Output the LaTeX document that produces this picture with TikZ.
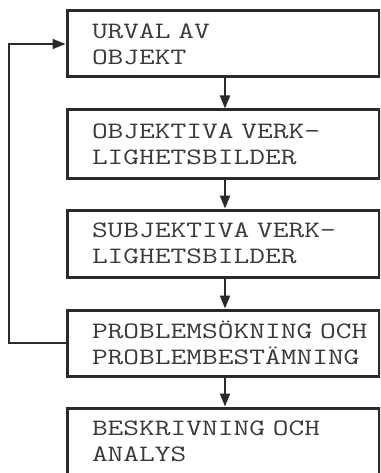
\documentclass[tikz,border=0pt]{standalone}
\usepackage{fontspec}
\newfontfamily\typew{Latin Modern Mono}[FakeStretch=1.30]
\usetikzlibrary{arrows.meta}
\definecolor{ink}{HTML}{2A2A2A}
\definecolor{txt}{HTML}{3A3A3A}
\tikzset{
  box/.style={draw=ink, line width=3pt, rectangle, text width=262pt, inner xsep=25pt,
    inner ysep=0pt, align=left, text=txt, font=\typew\fontsize{23.5}{26}\selectfont},
  flow/.style={draw=ink, line width=2pt, -{Triangle[length=13pt,width=10pt]}},
  back/.style={draw=ink, line width=1.5pt, -{Triangle[length=13pt,width=10pt]}}
}
\begin{document}
\begin{tikzpicture}[x=1pt,y=-1pt]
\useasboundingbox (0,0) rectangle (380,473);
\fill[white] (0,0) rectangle (380,473);
\clip (0,0) rectangle (380,473);
\node[box, minimum height=66pt] (b1) at (223,44) {\mbox{URVAL AV}\\\mbox{OBJEKT}};
\node[box, minimum height=68pt] (b2) at (223,144) {\mbox{OBJEKTIVA VERK-}\\\mbox{LIGHETSBILDER}};
\node[box, minimum height=67pt] (b3) at (223,243.5) {\mbox{SUBJEKTIVA VERK-}\\\mbox{LIGHETSBILDER}};
\node[box, minimum height=66pt] (b4) at (223,343) {\mbox{PROBLEMSÖKNING OCH}\\\mbox{PROBLEMBESTÄMNING}};
\node[box, minimum height=67pt] (b5) at (223,441.5) {\mbox{BESKRIVNING OCH}\\\mbox{ANALYS}};
\coordinate (fb) at (9,343);
\draw[flow] ([xshift=2pt]b1.south) -- ([xshift=2pt]b2.north);
\draw[flow] ([xshift=2pt]b2.south) -- ([xshift=2pt]b3.north);
\draw[flow] ([xshift=2pt]b3.south) -- ([xshift=2pt]b4.north);
\draw[flow] ([xshift=2pt]b4.south) -- ([xshift=2pt]b5.north);
\draw[back] (b4.west) -- (fb) |- (b1.west);
\end{tikzpicture}
\end{document}
